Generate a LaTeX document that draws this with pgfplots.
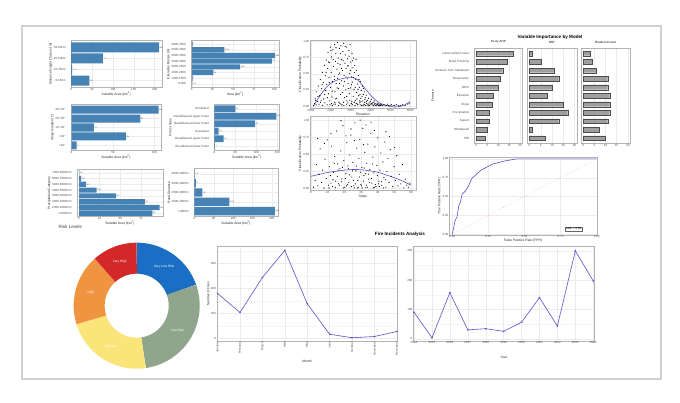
\documentclass[border=0pt]{standalone}
\usepackage{pgfplots}
\pgfplotsset{compat=1.18}
\usepackage{fontspec}
\setmainfont{Liberation Sans}
\definecolor{steel}{HTML}{4682B4}
\definecolor{linec}{HTML}{5B50CF}
\definecolor{vlr}{HTML}{1A6FC4}
\definecolor{lr}{HTML}{8FA68C}
\definecolor{med}{HTML}{FBE47A}
\definecolor{high}{HTML}{EF9440}
\definecolor{vhigh}{HTML}{D3282A}
\definecolor{gridc}{HTML}{EBEBEB}
\definecolor{framec}{HTML}{B3B3B3}
\definecolor{tickc}{HTML}{4D4D4D}
\pgfplotsset{
  gg/.style={
    scale only axis, anchor=north west,
    axis line style={draw=framec, line width=0.4pt},
    grid=major, major grid style={draw=gridc, line width=0.3pt},
    minor grid style={draw=gridc!50, line width=0.2pt},
    tick style={draw=none},
    /pgf/number format/assume math mode=true,
    /pgf/number format/1000 sep={},
    tick label style={font=\fontsize{3}{3}\selectfont, text=tickc},
    xticklabel style={inner sep=0.7pt},
    yticklabel style={inner sep=0.7pt},
    xlabel style={font=\fontsize{3.3}{3.3}\selectfont, text=black!85, inner sep=0.6pt},
    ylabel style={font=\fontsize{3.3}{3.3}\selectfont, text=black!85, inner sep=0.6pt},
  },
  twodec/.style={/pgf/number format/fixed, /pgf/number format/fixed zerofill, /pgf/number format/precision=2},
  hbar/.style={gg, xbar, ytick=data, ymin=0.4, ymax={#1+0.6}, bar width=0.9,
    nodes near coords={\pgfmathprintnumber[fixed,precision=1]{\pgfplotspointmeta}},
    point meta=x,
    every node near coord/.append style={font=\fontsize{2}{2}\selectfont, inner sep=0.6pt, text=black!70}},
  vbar/.style={gg, xbar, ytick=data, ymin=0.4, ymax=11.6, bar width=0.55,
    xmin=-1, xmax=21, xtick={0,5,10,15,20}, ymajorgrids=false,
    title style={font=\fontsize{3}{3}\selectfont, inner sep=0.6pt, yshift=-2pt}},
  dots/.style={only marks, mark=*, mark size=0.3pt, mark options={fill=black, draw=none, fill opacity=0.6}},
}
\begin{document}
\begin{tikzpicture}
\fill[white] (0,0) rectangle (680pt,403pt);
\draw[framec!60, line width=1.2pt] (22pt,24pt) rectangle (661pt,377pt);

% ---------- bar panels ----------
\begin{axis}[hbar=4, at={(70.7pt,362.3pt)}, width=91pt, height=46.6pt,
  xmin=-1, xmax=217, xtick={0,50,100,150,200},
  yticklabels={0-15km,15-25km,25-50km,50-65km},
  xlabel={Suitable Area (km\textsuperscript{2})}, ylabel={Distance Height Classes (m)}]
\addplot[fill=steel, draw=none] coordinates {(44,1) (2.4,2) (76,3) (211,4)};
\end{axis}

\begin{axis}[hbar=8, at={(191pt,362.3pt)}, width=88.3pt, height=46.6pt,
  xmin=-1, xmax=106, xtick={0,25,50,75,100},
  yticklabels={<1000,1000-1500,1500-2000,2000-2500,2500-3000,3000-3500,3500-4000,4000-4500},
  xlabel={Area (km\textsuperscript{2})}, ylabel={Elevation Range (m)}]
\addplot[fill=steel, draw=none] coordinates {(0.3,1) (1,2) (26,3) (58.5,4) (97,5) (101,6) (39.5,7) (1,8)};
\end{axis}

\begin{axis}[hbar=5, at={(70.7pt,298.7pt)}, width=90.3pt, height=46.4pt,
  xmin=-1, xmax=108, xtick={0,50,100},
  yticklabels={<10\textdegree,>40\textdegree,10\textdegree-20\textdegree,20\textdegree-30\textdegree,30\textdegree-40\textdegree},
  xlabel={Suitable Area (km\textsuperscript{2})}, ylabel={Slope Gradient (\textdegree)}]
\addplot[fill=steel, draw=none] coordinates {(6,1) (66,2) (27,3) (83,4) (105,5)};
\end{axis}

\begin{axis}[hbar=6, at={(214pt,298.7pt)}, width=65.3pt, height=46.4pt,
  xmin=-1, xmax=155, xtick={0,50,100,150},
  yticklabels={Broadleaved lower forest,Broadleaved upper forest,Grassland,Needleleaved lower forest,Needleleaved upper forest,Shrubland},
  xlabel={Suitable Area (km\textsuperscript{2})}, ylabel={Forest Type}]
\addplot[fill=steel, draw=none] coordinates {(1,1) (22,2) (10,3) (97,4) (148,5) (50,6)};
\end{axis}

\begin{axis}[hbar=8, at={(76.7pt,233.7pt)}, width=86.3pt, height=47.4pt,
  xmin=-2.8, xmax=102, xtick={0,25,50,75},
  yticklabels={<1000mm,1000-2000mm,2000-3000mm,3000-4000mm,4000-5000mm,5000-6000mm,6000-7000mm,7000-8000mm},
  xlabel={Suitable Area (km\textsuperscript{2})}, ylabel={Precipitation Category}]
\addplot[fill=steel, draw=none] coordinates {(89,1) (98,2) (80,3) (45,4) (21.5,5) (8.5,6) (2.5,7) (0.3,8)};
\end{axis}

\begin{axis}[hbar=5, at={(193.7pt,234.7pt)}, width=84.6pt, height=48.4pt,
  xmin=-1.7, xmax=217, xtick={0,50,100,150,200},
  yticklabels={<1000m,1000-2000m,2000-3000m,3000-4000m,4000-5000m},
  xlabel={Suitable Area (km\textsuperscript{2})}, ylabel={Road Distance}]
\addplot[fill=steel, draw=none] coordinates {(208,1) (90.5,2) (21,3) (4,4) (0.5,5)};
\end{axis}

\node[anchor=west, font=\fontsize{4.6}{4.6}\selectfont, text=black!75] at (55pt,176pt) {Risk Levels};

% ---------- scatter panels ----------
\begin{axis}[gg, at={(310pt,363pt)}, width=105.7pt, height=68.7pt,
  xmin=950, xmax=6280, ymin=-0.04, ymax=1.02,
  xtick={1000,2000,3000,4000,5000,6000}, ytick={0,0.25,0.5,0.75,1},
  yticklabel style={twodec},
  xlabel={Elevation}, ylabel={Classification Probability}]
\addplot[dots] coordinates {
(1120,0.01) (1180,0.04) (1210,0.12) (1260,0.02) (1290,0.22) (1330,0.07) (1370,0.31) (1405,0.03) (1440,0.16) (1470,0.41) (1510,0.09) (1540,0.27) (1575,0.52) (1590,0.01)
(1620,0.36) (1645,0.11) (1670,0.63) (1700,0.05) (1720,0.47) (1745,0.24) (1770,0.71) (1790,0.33) (1815,0.02) (1840,0.58) (1860,0.83) (1885,0.19) (1905,0.44) (1930,0.67) (1950,0.08) (1975,0.91) (1990,0.29) (2015,0.52) (2040,0.76) (2060,0.14) (2085,0.38) (2105,0.87) (2130,0.61) (2150,0.03) (2170,0.46) (2190,0.95)
(2210,0.22) (2230,0.69) (2250,0.81) (2270,0.35) (2290,0.12) (2310,0.57) (2330,0.98) (2350,0.43) (2370,0.74) (2390,0.27) (2410,0.06) (2430,0.89) (2450,0.51) (2470,0.64) (2490,0.18) (2510,0.93) (2530,0.39) (2550,0.72) (2570,0.02) (2590,0.55) (2610,0.84) (2630,0.31) (2650,0.97) (2670,0.47) (2690,0.13) (2710,0.66) (2730,0.79) (2750,0.25) (2770,0.58) (2790,0.91) (2810,0.08) (2830,0.42) (2850,0.73) (2870,0.35) (2890,0.62) (2910,0.86) (2930,0.19) (2950,0.5) (2970,0.95) (2990,0.28) (3010,0.68) (3030,0.04) (3050,0.45) (3070,0.81) (3090,0.37) (3110,0.59) (3130,0.15) (3150,0.74) (3170,0.26) (3190,0.52)
(3210,0.63) (3235,0.09) (3260,0.41) (3285,0.55) (3310,0.21) (3335,0.34) (3360,0.02) (3385,0.47) (3410,0.16) (3435,0.29) (3460,0.05) (3485,0.38) (3510,0.12) (3535,0.24) (3560,0.01) (3585,0.31) (3610,0.08) (3635,0.18) (3660,0.03) (3685,0.22) (3710,0.06) (3735,0.13) (3760,0.01) (3785,0.17)
(3810,0.04) (3840,0.09) (3870,0.02) (3900,0.12) (3930,0.05) (3960,0.01) (3990,0.07) (4020,0.03) (4050,0.1) (4080,0.02) (4110,0.05) (4140,0.01) (4170,0.06) (4200,0.02) (4230,0.04) (4260,0.01) (4290,0.03) (4320,0.005) (4350,0.02) (4380,0.04) (4410,0.01) (4440,0.02) (4470,0.005) (4500,0.03) (4530,0.01) (4560,0.02)
(4620,0.01) (4680,0.02) (4740,0.005) (4800,0.01) (4860,0.03) (4920,0.005) (4980,0.01) (5060,0.02) (5140,0.005) (5220,0.01) (5300,0.02) (5400,0.005) (5500,0.01) (5620,0.02) (5750,0.01) (5880,0.03) (5950,0.04)
(1960,0.02) (2080,0.01) (2240,0.03) (2380,0.01) (2520,0.02) (2660,0.01) (2800,0.03) (2940,0.01) (3080,0.02) (3220,0.01) (3340,0.03) (3480,0.02) (3620,0.01) (3700,0.02) (3880,0.01)
(1230,0.09) (1350,0.15) (1480,0.06) (1560,0.33) (1690,0.18) (1760,0.52) (1830,0.13) (1880,0.68) (1920,0.36) (2000,0.86) (2070,0.23) (2120,0.72) (2180,0.41) (2220,0.11) (2260,0.9) (2320,0.28) (2360,0.66) (2400,0.49) (2440,0.35) (2480,0.81) (2540,0.58) (2580,0.21) (2620,0.7) (2680,0.38) (2720,0.92) (2760,0.45) (2800,0.15) (2840,0.62) (2880,0.27) (2920,0.77) (2960,0.09) (3000,0.55) (3040,0.33) (3100,0.7) (3140,0.44) (3180,0.06) (3230,0.29) (3270,0.72) (3320,0.11) (3370,0.26) (3420,0.41) (3470,0.18) (3520,0.07) (3570,0.15) (3640,0.27) (3720,0.1) (3800,0.07) (3920,0.03) (4060,0.04) (4190,0.08) (4330,0.03) (4480,0.01) (2030,0.04) (2200,0.06) (2460,0.04) (2640,0.06) (2860,0.05) (3060,0.07) (3280,0.04) (3440,0.08)
};
\addplot[linec, line width=0.6pt, smooth] coordinates {
(1120,0.0) (1500,0.18) (1875,0.32) (2300,0.4) (2885,0.44) (3300,0.42) (3700,0.28) (4060,0.15) (4400,0.06) (4740,0.015) (5240,-0.015) (5650,0.01) (6000,0.07)};
\end{axis}

\begin{axis}[gg, at={(310pt,287pt)}, width=105.7pt, height=74.7pt,
  xmin=-0.6, xmax=62.8, ymin=-0.03, ymax=1.06,
  xtick={0,10,20,30,40,50,60}, ytick={0,0.25,0.5,0.75,1},
  yticklabel style={twodec},
  xlabel={Slope}, ylabel={Classification Probability}]
\addplot[dots] coordinates {
(1.5,0.02) (2.5,0.12) (3.2,0.35) (4.1,0.04) (4.8,0.21) (5.5,0.58) (6.3,0.09) (7.0,0.27) (7.8,0.01) (8.4,0.43) (9.1,0.15) (9.7,0.71) (10.4,0.05) (11.0,0.32) (11.6,0.19) (12.3,0.62) (12.9,0.03) (13.5,0.24) (14.2,0.47) (14.8,0.11) (15.4,0.84) (16.0,0.36) (16.6,0.07) (17.3,0.29) (17.9,0.55) (18.5,0.14) (19.1,0.92) (19.7,0.41) (20.3,0.02) (20.9,0.22) (21.5,0.67) (22.1,0.33) (22.7,0.09) (23.3,0.49) (23.9,0.78) (24.5,0.17) (25.1,0.38) (25.7,0.04) (26.3,0.96) (26.9,0.26) (27.5,0.59) (28.1,0.12) (28.7,0.44) (29.3,0.72) (29.9,0.06) (30.5,0.31) (31.1,0.88) (31.7,0.19) (32.3,0.53) (32.9,0.02) (33.5,0.37) (34.1,0.65) (34.7,0.14) (35.3,0.28) (35.9,0.81) (36.5,0.08) (37.1,0.46) (37.7,0.23) (38.3,0.61) (38.9,0.03) (39.5,0.34) (40.1,0.74) (40.7,0.11) (41.3,0.27) (41.9,0.52) (42.5,0.05) (43.1,0.39) (43.7,0.16) (44.3,0.68) (44.9,0.02) (45.5,0.25) (46.1,0.44) (46.8,0.09) (47.5,0.57) (48.2,0.18) (49.0,0.03) (49.8,0.32) (50.6,0.12) (51.4,0.48) (52.2,0.04) (53.0,0.21) (53.9,0.07) (54.8,0.35) (55.7,0.01) (56.6,0.14) (57.5,0.05) (58.4,0.02) (59.3,0.08)
(10.8,0.01) (12.0,0.08) (13.2,0.13) (14.5,0.02) (15.8,0.18) (17.0,0.05) (18.2,0.1) (19.4,0.01) (20.6,0.15) (21.8,0.06) (23.0,0.2) (24.2,0.03) (25.4,0.12) (26.6,0.07) (27.8,0.01) (29.0,0.17) (30.2,0.04) (31.4,0.11) (32.6,0.22) (33.8,0.02) (35.0,0.09) (36.2,0.15) (37.4,0.01) (38.6,0.06) (39.8,0.19) (41.0,0.03) (42.2,0.1) (43.4,0.01) (44.6,0.13) (22.4,0.29) (24.8,0.26) (27.2,0.33) (29.6,0.24) (31.9,0.3) (34.4,0.21) (36.8,0.36) (16.3,0.27) (18.8,0.31) (13.9,0.37) (28.4,0.02) (30.8,0.01) (21.2,0.04) (25.9,0.01) (33.2,0.05) (37.9,0.02) (40.4,0.07)
(18.0,0.99) (24.0,0.87) (29.5,1.0) (33.0,0.93) (36.0,0.97) (38.0,0.85) (21.0,0.77) (26.0,0.7) (31.5,0.64) (45.0,0.83) (47.0,0.76) (50.0,0.6) (8.0,0.66) (12.0,0.8) (4.0,0.73)
};
\addplot[linec, line width=0.6pt, smooth] coordinates {
(0,0.18) (10,0.235) (20,0.27) (27,0.28) (34,0.265) (40,0.24) (45,0.2) (50,0.16) (55,0.11) (60,0.05)};
\end{axis}

% ---------- variable importance ----------
\node[font=\bfseries\fontsize{4.6}{4.6}\selectfont] at (550pt,366pt) {Variable Importance by Model};
\begin{axis}[vbar, at={(474.3pt,354.7pt)}, width=48pt, height=95pt, title={Fuzzy AHP},
  yticklabels={TWI,Windspeed,Aspect,Precipitation,Slope,Elevation,NDVI,Temperature,Distance from Settlement,Road Proximity,Land use/land cover},
  ylabel={Feature}]
\addplot[fill=gray!75, draw=black!70, line width=0.2pt] coordinates {(3.9,1) (5,2) (6,3) (6,4) (7,5) (7.8,6) (10,7) (11,8) (12,9) (14,10) (17,11)};
\end{axis}
\begin{axis}[vbar, at={(527.3pt,354.7pt)}, width=49.4pt, height=95pt, title={BRT}, yticklabels={}]
\addplot[fill=gray!75, draw=black!70, line width=0.2pt] coordinates {(7,1) (1,2) (13,3) (17,4) (15,5) (8,6) (10,7) (13,8) (11,9) (5,10) (1,11)};
\end{axis}
\begin{axis}[vbar, at={(581pt,354.7pt)}, width=49pt, height=95pt, title={Random Forest}, yticklabels={}]
\addplot[fill=gray!75, draw=black!70, line width=0.2pt] coordinates {(9.9,1) (7,2) (11,3) (11.9,4) (11.9,5) (11.9,6) (11,7) (11,8) (6,9) (4,10) (3.1,11)};
\end{axis}

% ---------- ROC ----------
\begin{axis}[gg, at={(449.3pt,245.7pt)}, width=147.4pt, height=77.7pt,
  xmin=-0.02, xmax=1.0, ymin=-0.01, ymax=1.02,
  xtick={0,0.25,0.5,0.75,1}, ytick={0,0.25,0.5,0.75,1},
  tick label style={twodec},
  xlabel={False Positive Rate (FPR)}, ylabel={True Positive Rate (TPR)}]
\addplot[red!55, dotted, line width=0.4pt] coordinates {(0,0) (1,1)};
\addplot[linec, line width=0.6pt] coordinates {
(0,0) (0.01,0.08) (0.018,0.17) (0.025,0.2) (0.034,0.235) (0.045,0.37) (0.057,0.43) (0.068,0.53) (0.09,0.57) (0.11,0.63) (0.136,0.74) (0.17,0.8) (0.2,0.85) (0.25,0.9) (0.28,0.93) (0.36,0.97) (0.45,1.0) (1,1)};
\node[draw=black!60, fill=white, font=\fontsize{3}{3}\selectfont, inner sep=0.8pt] at (axis cs:0.84,0.07) {AUC = 0.88};
\end{axis}

% ---------- donut ----------
\begin{axis}[at={(136.7pt,97.3pt)}, anchor=origin, x=1pt, y=1pt, hide axis,
  xmin=-64, xmax=64, ymin=-64, ymax=64, clip=false]
\addplot[vlr, line width=31pt, domain=90:19.44, samples=60] ({47.5*cos(x)},{47.5*sin(x)});
\addplot[lr, line width=31pt, domain=19.44:-81.72, samples=60] ({47.5*cos(x)},{47.5*sin(x)});
\addplot[med, line width=31pt, domain=-81.72:-162.72, samples=60] ({47.5*cos(x)},{47.5*sin(x)});
\addplot[high, line width=31pt, domain=-162.72:-228.24, samples=60] ({47.5*cos(x)},{47.5*sin(x)});
\addplot[vhigh, line width=31pt, domain=-228.24:-270, samples=60] ({47.5*cos(x)},{47.5*sin(x)});
\begin{scope}[every node/.style={font=\fontsize{3.2}{3.2}\selectfont, text=white}]
\node at (axis cs:27.4,38.8) {Very Low Risk};
\node at (axis cs:40.65,-24.56) {Low Risk};
\node at (axis cs:-25.32,-40.19) {Medium};
\node at (axis cs:-45.78,12.67) {High};
\node at (axis cs:-16.93,44.38) {Very High};
\end{scope}
\end{axis}

% ---------- fire incidents ----------
\node[font=\bfseries\fontsize{4.6}{4.6}\selectfont] at (400pt,168.7pt) {Fire Incidents Analysis};
\begin{axis}[gg, at={(216.7pt,156.3pt)}, width=180.6pt, height=94.3pt,
  xmin=0.96, xmax=9.02, ymin=-10, ymax=367, xtick={1,...,9}, ytick={0,100,200,300},
  minor ytick={50,150,250,350}, yminorgrids,
  xticklabels={January,February,March,April,May,June,October,November,December},
  xticklabel style={rotate=90, anchor=east},
  xlabel={Month}, ylabel={Number of Fires}, xlabel style={yshift=-3pt}]
\addplot[linec, line width=0.6pt, mark=*, mark size=0.45pt] coordinates {
(1,180) (2,104) (3,244) (4,352) (5,139) (6,17) (7,3) (8,8) (9,28)};
\end{axis}
\begin{axis}[gg, at={(413.3pt,156.3pt)}, width=181pt, height=94.3pt,
  xmin=2013.96, xmax=2024.06, ymin=-8, ymax=314, xtick={2014,...,2024}, ytick={0,100,200,300},
  minor ytick={50,150,250}, yminorgrids,
  xlabel={Year}, xlabel style={yshift=-11pt}]
\addplot[linec, line width=0.6pt, mark=*, mark size=0.45pt] coordinates {
(2014,90) (2015,3) (2016,157) (2017,30) (2018,34) (2019,25) (2020,56) (2021,140) (2022,43) (2023,300) (2024,197)};
\end{axis}

\pgfresetboundingbox
\path (0,0) rectangle (680pt,403pt);
\end{tikzpicture}
\end{document}
